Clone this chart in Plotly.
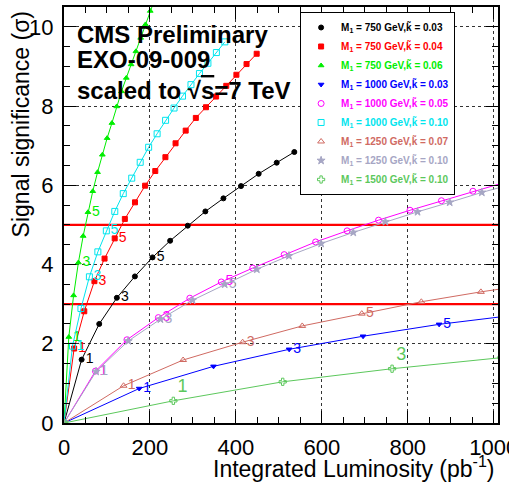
import plotly.graph_objects as go

# ---------------- data ----------------
lum_750_003 = [0, 41, 82, 123, 165, 206, 247, 288, 329, 371, 412, 453, 495, 536]
sig_750_003 = [0, 1.60, 2.50, 3.16, 3.70, 4.18, 4.60, 4.98, 5.34, 5.67, 5.98, 6.29, 6.57, 6.84]

lum_750_004 = [0, 23.6, 47.2, 70.8, 94.4, 118, 141.6, 165.2, 188.8, 212.4, 236, 259.6, 283.2,
               306.8, 330.4, 354, 377.6, 401.2, 424.8, 448.4]
sig_750_004 = [0, 1.88, 2.82, 3.58, 4.15, 4.66, 5.15, 5.57, 5.99, 6.36, 6.71, 7.06, 7.38,
               7.70, 7.97, 8.24, 8.51, 8.79, 9.06, 9.32]

lum_750_006 = [0, 11.2, 22.3, 33.5, 44.6, 55.8, 66.9, 78.1, 89.2, 100.4, 111.5, 122.7, 133.8,
               145.0, 156.1, 167.3, 178.4, 189.6, 200.7, 211.9]
sig_750_006 = [0, 2.17, 3.22, 4.05, 4.72, 5.32, 5.85, 6.33, 6.77, 7.19, 7.57, 7.99, 8.37,
               8.71, 9.05, 9.38, 9.72, 10.06, 10.40, 10.72]

lum_1000_003 = [0, 175, 348, 524, 696, 873, 1047]
sig_1000_003 = [0, 0.87, 1.43, 1.86, 2.19, 2.49, 2.72]

lum_1000_005 = [0, 73.2, 146.4, 219.6, 292.8, 366, 439.2, 512.4, 585.6, 658.8, 732, 805.2,
                878.4, 951.6, 1024.8]
sig_1000_005 = [0, 1.31, 2.10, 2.66, 3.15, 3.56, 3.91, 4.25, 4.57, 4.85, 5.12, 5.37,
                5.61, 5.85, 6.07]

lum_1000_010 = [0, 19.7, 39.4, 59.1, 78.8, 98.5, 118.2, 137.9, 157.6, 177.3, 197, 216.7,
                236.4, 256.1, 275.8, 295.5, 315.2, 334.9, 354.6, 374.3]
sig_1000_010 = [0, 1.94, 2.89, 3.69, 4.32, 4.85, 5.34, 5.79, 6.18, 6.58, 6.96, 7.30,
                7.64, 7.95, 8.25, 8.54, 8.82, 9.08, 9.35, 9.62]

lum_1250_007 = [0, 138.6, 277.2, 415.8, 554.4, 693, 831.6, 970.2, 1108.8]
sig_1250_007 = [0, 0.94, 1.59, 2.04, 2.45, 2.76, 3.06, 3.31, 3.53]

lum_1250_010 = [0, 74.8, 149.6, 224.4, 299.2, 374, 448.8, 523.6, 598.4, 673.2, 748, 822.8,
                897.6, 972.4, 1047.2]
sig_1250_010 = [0, 1.30, 2.07, 2.62, 3.10, 3.50, 3.88, 4.22, 4.53, 4.81, 5.08, 5.33,
                5.57, 5.82, 6.04]

lum_1500_010 = [0, 254.5, 509, 763.5, 1018]
sig_1500_010 = [0, 0.56, 1.04, 1.37, 1.65]

point_labels = ["1", "3", "5"]
label_index = [1, 3, 5]
threshold_levels = [3, 5]

x_ticks = [0, 200, 400, 600, 800, 1000]
y_ticks = [0, 2, 4, 6, 8, 10]

FONT = "Liberation Sans, Arial, Helvetica, sans-serif"

series = [
    # name, lum, sig, color, symbol, size, label-size, label-position
    ("M<sub>1</sub> = 750 GeV,k\u0303 = 0.03", lum_750_003, sig_750_003, "#000000", "circle", 5, 14, "middle right"),
    ("M<sub>1</sub> = 750 GeV,k\u0303 = 0.04", lum_750_004, sig_750_004, "#ff0000", "square", 5, 14, "middle right"),
    ("M<sub>1</sub> = 750 GeV,k\u0303 = 0.06", lum_750_006, sig_750_006, "#00ee00", "triangle-up", 5, 14, "middle right"),
    ("M<sub>1</sub> = 1000 GeV,k\u0303 = 0.03", lum_1000_003, sig_1000_003, "#0000ff", "triangle-down", 5, 14, "middle right"),
    ("M<sub>1</sub> = 1000 GeV,k\u0303 = 0.05", lum_1000_005, sig_1000_005, "#ff00ff", "circle-open", 6, 14, "middle right"),
    ("M<sub>1</sub> = 1000 GeV,k\u0303 = 0.10", lum_1000_010, sig_1000_010, "#00e5ee", "square-open", 6, 14, "middle right"),
    ("M<sub>1</sub> = 1250 GeV,k\u0303 = 0.07", lum_1250_007, sig_1250_007, "#d06a62", "triangle-up-open", 6, 14, "middle right"),
    ("M<sub>1</sub> = 1250 GeV,k\u0303 = 0.10", lum_1250_010, sig_1250_010, "#a6a6c4", "star", 6, 14, "middle right"),
    ("M<sub>1</sub> = 1500 GeV,k\u0303 = 0.10", lum_1500_010, sig_1500_010, "#5cc85c", "cross-open", 6, 18, "top right"),
]

fig = go.Figure()

# threshold lines (3 sigma, 5 sigma)
for lev in threshold_levels:
    fig.add_trace(go.Scatter(x=[0, 1010], y=[lev, lev], mode="lines",
                             line=dict(color="#ff0000", width=2.2),
                             showlegend=False, hoverinfo="skip"))

for name, lum, sig, col, sym, sz, lsz, lpos in series:
    fig.add_trace(go.Scatter(
        x=lum, y=sig, mode="lines+markers",
        line=dict(color=col, width=1),
        marker=dict(symbol=sym, size=sz, color=col, line=dict(color=col, width=1)),
        showlegend=False,
    ))
    idx = [i for i in label_index if i < len(lum) and lum[i] <= 1000]
    fig.add_trace(go.Scatter(
        x=[lum[i] for i in idx], y=[sig[i] for i in idx],
        text=[point_labels[label_index.index(i)] for i in idx],
        mode="markers+text", textposition=lpos,
        marker=dict(size=5, opacity=0),
        textfont=dict(family=FONT, size=lsz, color=col),
        showlegend=False, hoverinfo="skip",
    ))

# legend entries (marker only)
for k, (name, lum, sig, col, sym, sz, lsz, lpos) in enumerate(series):
    fig.add_trace(go.Scatter(
        x=[None], y=[None], mode="markers",
        marker=dict(symbol=sym, size=sz, color=col, line=dict(color=col, width=1)),
        name=f"<span style='color:{col}'><b>{name}</b></span>",
        legendgroup=f"g{k}", showlegend=True,
    ))

axis_common = dict(
    showline=True, linewidth=2, linecolor="black", mirror="allticks",
    ticks="inside", ticklen=12, tickwidth=1, tickcolor="black",
    showgrid=True, gridcolor="#333333", griddash="dot", gridwidth=1,
    zeroline=False, ticklabeloverflow="allow", automargin=False,
    tickfont=dict(family=FONT, size=22, color="black"),
)

fig.update_xaxes(range=[0, 1010], tickvals=x_ticks,
                 minor=dict(ticks="inside", ticklen=6, dtick=50, tick0=0, tickcolor="black", showgrid=False),
                 ticklabelstandoff=4, **axis_common)
fig.update_yaxes(range=[0, 10.5], tickvals=y_ticks,
                 minor=dict(ticks="inside", ticklen=6, dtick=0.5, tick0=0, tickcolor="black", showgrid=False),
                 ticklabelstandoff=4, **axis_common)

fig.add_annotation(text="Integrated Luminosity (pb<sup>-1</sup>)", xref="paper", yref="paper",
                   x=0.998, y=-0.105, xanchor="right", yanchor="middle", showarrow=False,
                   font=dict(family=FONT, size=23, color="black"))
fig.add_annotation(text="Signal significance (\u03c3)", xref="paper", yref="paper",
                   x=-0.097, y=0.994, xanchor="center", yanchor="top", textangle=-90, showarrow=False,
                   font=dict(family=FONT, size=23, color="black"))

title_lines = ["CMS Preliminary", "EXO-09-009",
               "scaled to \u221a<span style='text-decoration:overline'>s</span>=7 TeV"]
for txt, yp in zip(title_lines, [0.935, 0.873, 0.799]):
    fig.add_annotation(text=f"<b>{txt}</b>", xref="paper", yref="paper", x=0.026, y=yp,
                       xanchor="left", yanchor="middle", showarrow=False,
                       font=dict(family=FONT, size=24, color="black"))

fig.update_layout(
    width=509, height=486,
    margin=dict(l=64, r=11, t=7, b=63, autoexpand=False),
    plot_bgcolor="white", paper_bgcolor="white",
    showlegend=True,
    legend=dict(x=0.544, y=0.988, xanchor="left", yanchor="top",
                bgcolor="white", bordercolor="black", borderwidth=1,
                font=dict(family=FONT, size=10, color="black"),
                itemsizing="trace", tracegroupgap=0),
)

fig.write_html("out.html")
